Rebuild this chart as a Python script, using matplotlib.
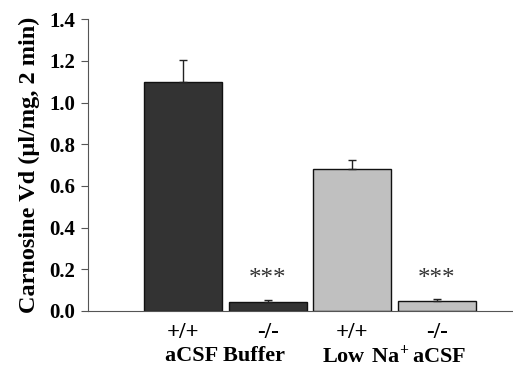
import matplotlib
matplotlib.use("Agg")
import matplotlib.pyplot as plt
import numpy as np

plt.rcParams['font.family'] = ['Liberation Serif', 'DejaVu Serif']
plt.rcParams['font.weight'] = 'bold'
plt.rcParams['mathtext.fontset'] = 'custom'
plt.rcParams['mathtext.rm'] = 'Liberation Serif:bold'
plt.rcParams['mathtext.bf'] = 'Liberation Serif:bold'

# data
genotypes = ['+/+', '-/-', '+/+', '-/-']
groups = ['aCSF Buffer', r'$\mathbf{Low\ Na^{+}\,aCSF}$']
values = [1.10, 0.045, 0.68, 0.05]
errors = [0.105, 0.008, 0.043, 0.008]
signif = ['', '***', '', '***']
colors = ['#333333', '#333333', '#c0c0c0', '#c0c0c0']

fig = plt.figure(figsize=(5.13, 3.68), dpi=100)
ax = fig.add_axes([0.1715, 0.155, 0.827, 0.793])

x = np.arange(len(values))
ax.bar(x, values, width=0.92, color=colors, edgecolor='#111111', linewidth=1.0)
ax.errorbar(x, values, yerr=[np.zeros(len(errors)), errors], fmt='none',
            ecolor='#222222', elinewidth=1.0, capsize=3, capthick=1.0)

for xi, s in zip(x, signif):
    if s:
        ax.text(xi, 0.155, s, ha='center', va='center', fontsize=18,
                fontweight='normal', color='#333333')

ax.set_xlim(-1.124, 3.89)
ax.set_ylim(0, 1.4)
ticks = np.arange(0, 1.41, 0.2)
ax.set_yticks(ticks)
ax.set_yticklabels([f'{t:.1f}' for t in ticks], fontsize=15, fontweight='bold')
ax.set_xticks([])
ax.spines['top'].set_visible(False)
ax.spines['right'].set_visible(False)
ax.spines['left'].set_color('#555555')
ax.spines['bottom'].set_color('#555555')
ax.tick_params(axis='y', direction='out', length=5, color='#555555', pad=4)

for xi, g in zip(x, genotypes):
    ax.text(xi, -0.105, g, ha='center', va='center',
            fontsize=16.5, fontweight='bold', clip_on=False)
for i, g in enumerate(groups):
    ax.text(2 * i + 0.5, -0.216, g, ha='center', va='center',
            fontsize=16, fontweight='bold', clip_on=False)

ax.set_ylabel('Carnosine Vd (\u00b5l/mg, 2 min)', fontsize=17.5, fontweight='bold', labelpad=7)

fig.savefig('out.png', dpi=100)
